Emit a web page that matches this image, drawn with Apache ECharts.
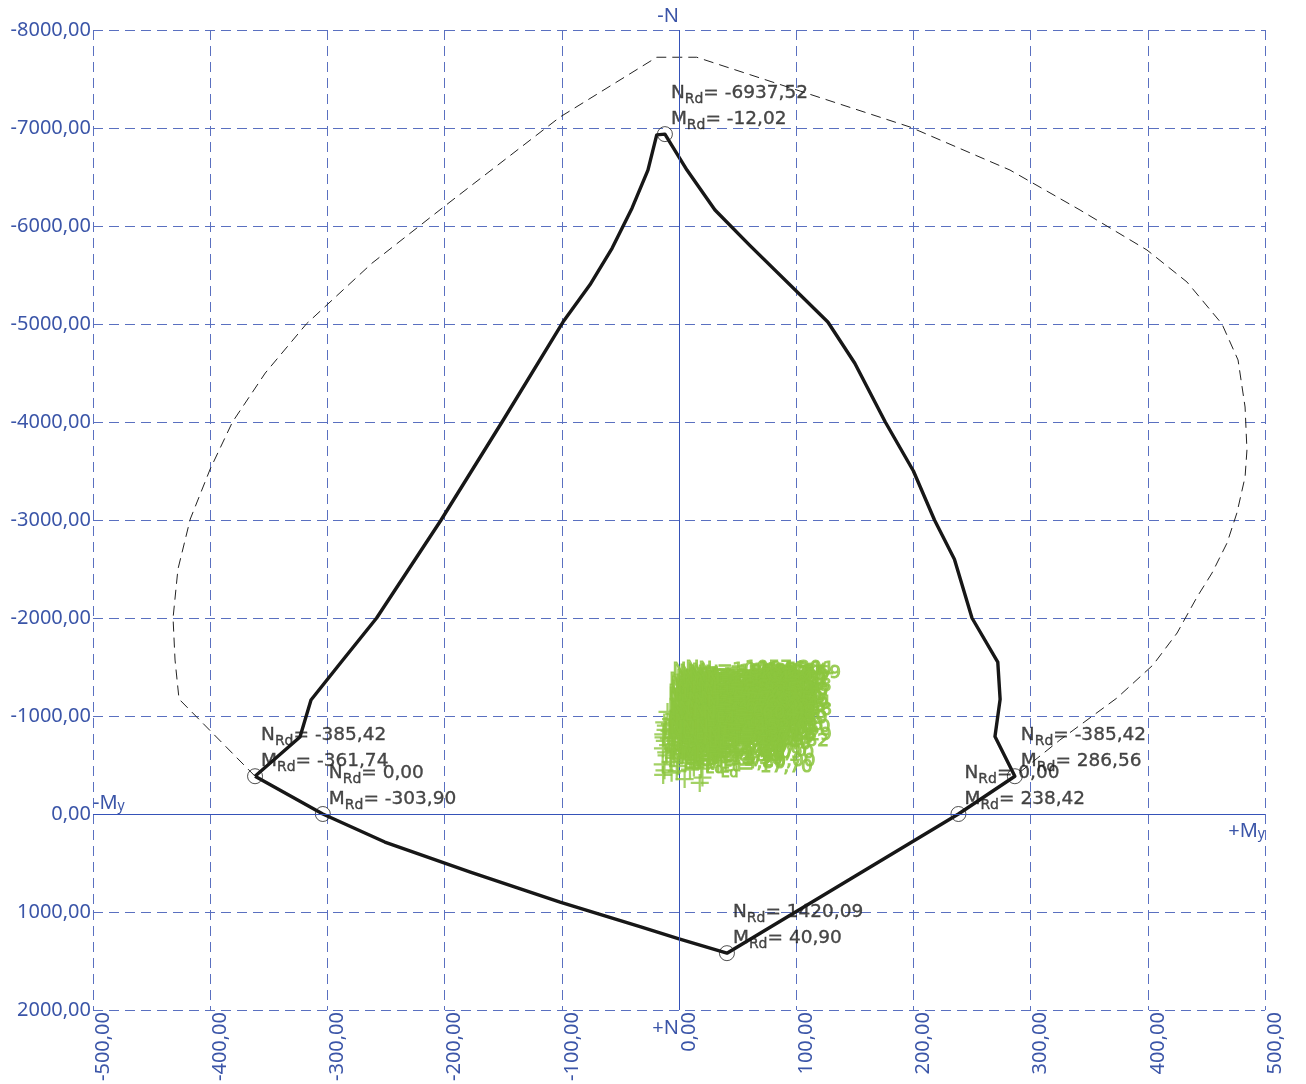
<!DOCTYPE html>
<html>
<head>
<meta charset="utf-8">
<title>N–My interaction diagram</title>
<script src="https://cdn.jsdelivr.net/npm/echarts@6/dist/echarts.min.js"></script>
<style>
  html, body { margin: 0; padding: 0; background: #ffffff; }
  #chart { width: 1306px; height: 1084px; }
</style>
</head>
<body>
<div id="chart"></div>
<script>
// Axis ranges (moment My on x, axial force N on y, compression negative, drawn upwards)
const xRange = { min: -500, max: 500, step: 100 };
const yRange = { min: -8000, max: 2000, step: 1000 };

// Design resistance envelope (solid), closed polygon: My [kNm], N [kN]
const resM = [-361.74, -323.4, -314.0, -288.0, -258.0, -203.0, -151.0, -99.0, -76.0, -57.0, -40.0, -26.5, -19.0, -12.02,
              6.8, 30.7, 60.6, 127.0, 150.0, 176.0, 200.0, 218.0, 235.0, 250.0, 272.0, 274.0, 269.6, 286.56,
              238.42, 40.90, 0.0, -33.3, -101.5, -178.0, -251.0, -303.90, -361.74];
const resN = [-385.42, -786, -1163, -1553, -2000, -3000, -4000, -5020, -5400, -5775, -6184, -6570, -6930, -6937.52,
              -6571, -6163, -5800, -5020, -4600, -4000, -3500, -3000, -2600, -2000, -1550, -1170, -790, -385.42,
              0.0, 1420.09, 1275, 1150, 900, 592, 286, 0.0, -385.42];

// Outer envelope (dashed), open curve between the two side points
const outM = [-361.74, -426.6, -430.0, -431.7, -427.5, -417.0, -400.0, -381.0, -353.0, -318.0, -262.0, -195.4, -101.5, -19.0,
              15.1, 197.1, 282.4, 342.2, 399.3, 433.4, 463.3, 477.0, 483.0, 484.6, 483.0, 476.0, 467.6, 454.8,
              442.0, 425.0, 404.4, 373.7, 325.0, 286.56];
const outN = [-385.42, -1173, -1571, -2000, -2500, -3010, -3520, -4000, -4500, -5000, -5620, -6245, -7112, -7722,
              -7722, -7010, -6571, -6163, -5755, -5429, -5000, -4633, -4153, -3714, -3439, -3071, -2765, -2459,
              -2214, -1847, -1520, -1184, -755, -385.42];

// Characteristic resistance points with labels
const rdM = [-12.02, -361.74, -303.90, 286.56, 238.42, 40.90];
const rdN = [-6937.52, -385.42, 0.00, -385.42, 0.00, 1420.09];

// Design loads (MEd, NEd)
const edM = [-11.2, -6.8, -1.5, 4.3, 9.6, 15.2, 19.8,
             -13.4, -8.1, -2.9, 2.6, 7.9, 13.3, 18.6,
             -12.1, -5.6, 0.7, 6.2, 11.8, 17.1,
             -13.7, -9.3, -3.8, 1.9, 8.8, 14.5, 20.1,
             -10.6, -4.4, 3.3, 10.2, 16.4,
             -13.9, -7.2, -0.9, 5.5, 12.7, 18.9,
             -13.5, -6.3, 4.8, 17.7,
             -9.8, -4.1, 1.2, 6.7, 12.3, 17.9,
             -12.6, -7.7, -2.2, 3.8, 9.1, 14.8, 19.3,
             -11.5, -5.9, 0.3, 5.9, 11.4, 16.9,
             -13.2, -8.6, -3.1, 2.9, 8.2, 13.8, 19.1,
             -10.9, -4.9, 1.4, 7.3, 15.7,
             -12.4, -1.9, 9.4, 20.0];
const edN = [-900.96, -968.40, -942.15, -1003.27, -951.62, -986.05, -874.48,
             -812.33, -845.70, -871.19, -903.56, -826.84, -888.12, -801.47,
             -745.28, -776.91, -731.64, -792.05, -758.39, -719.86,
             -668.52, -702.17, -655.83, -689.40, -642.71, -676.25, -633.08,
             -598.64, -573.19, -611.82, -586.37, -552.90,
             -506.41, -531.76, -488.23, -519.05, -474.68, -462.30,
             -398.12, -421.57, -356.44, -316.82,
             -1041.55, -1018.72, -1057.30, -1029.84, -1046.11, -1012.69,
             -934.27, -917.63, -958.48, -979.12, -922.85, -936.40, -948.77,
             -857.26, -834.09, -862.71, -848.53, -869.94, -835.18,
             -781.45, -769.02, -712.37, -734.86, -726.13, -741.59, -698.44,
             -627.81, -641.26, -659.92, -622.45, -604.88,
             -445.73, -437.16, -452.61, -371.29];

const zip = (a, b) => a.map((v, i) => [v, b[i]]);
const fmt = v => v.toFixed(2).replace('.', ',');

const FONT = '"Noto Sans", "Open Sans", sans-serif';
const LABEL_FONT = '"DejaVu Sans", Verdana, sans-serif';
const AXIS_BLUE = '#3b55a8';
const GRID_BLUE = '#5a70c0';
const GREEN = '#8cc63f';

function pointLabel(sub, color, border) {
  const base = { fontFamily: LABEL_FONT, color: color, lineHeight: 26 };
  if (border) { base.textBorderColor = color; base.textBorderWidth = border; }
  return {
    show: true,
    position: [14, -46],
    align: 'left',
    verticalAlign: 'top',
    formatter: p => `{n|N}{s|${sub}}{n|= ${fmt(p.value[1])}}\n{n|M}{s|${sub}}{n|= ${fmt(p.value[0])}}`,
    rich: {
      n: Object.assign({ fontSize: 18.5 }, base),
      s: Object.assign({ fontSize: 14, verticalAlign: 'bottom' }, base)
    }
  };
}

const chart = echarts.init(document.getElementById('chart'), null, { renderer: 'canvas' });

const option = {
  backgroundColor: '#ffffff',
  animation: false,
  grid: { left: 93, right: 41, top: 30, bottom: 74, containLabel: false },
  xAxis: {
    type: 'value',
    min: xRange.min, max: xRange.max, interval: xRange.step,
    axisLine: { show: false },
    axisTick: { show: false },
    splitLine: { show: true, showMinLine: true, showMaxLine: true, lineStyle: { color: GRID_BLUE, width: 1, type: [10, 6] } },
    axisLabel: {
      rotate: 90, margin: 2, verticalAlign: 'top',
      color: AXIS_BLUE, fontFamily: FONT, fontSize: 20,
      formatter: v => fmt(v)
    }
  },
  yAxis: {
    type: 'value', inverse: true,
    min: yRange.min, max: yRange.max, interval: yRange.step,
    axisLine: { show: false },
    axisTick: { show: false },
    splitLine: { show: true, showMinLine: true, showMaxLine: true, lineStyle: { color: GRID_BLUE, width: 1, type: [10, 6] } },
    axisLabel: {
      margin: 2, color: AXIS_BLUE, fontFamily: FONT, fontSize: 20,
      formatter: v => fmt(v)
    }
  },
  series: [
    {
      name: 'outer',
      type: 'line',
      data: zip(outM, outN),
      symbol: 'none',
      z: 2,
      lineStyle: { color: '#222222', width: 1, type: [10, 6] },
      markLine: {
        silent: true,
        symbol: 'none',
        label: { show: false },
        lineStyle: { color: '#3552b8', width: 1, type: 'solid' },
        data: [{ xAxis: 0 }, { yAxis: 0 }]
      }
    },
    {
      name: 'resistance',
      type: 'line',
      data: zip(resM, resN),
      symbol: 'none',
      z: 3,
      lineStyle: { color: '#171717', width: 3.4, join: 'round' }
    },
    {
      name: 'Rd points',
      type: 'scatter',
      data: zip(rdM, rdN),
      symbol: 'circle',
      symbolSize: 15,
      z: 4,
      itemStyle: { color: 'rgba(255,255,255,0)', borderColor: '#222222', borderWidth: 1 },
      label: pointLabel('Rd', '#1a1a1a', 0.35)
    },
    {
      name: 'Ed loads',
      type: 'scatter',
      data: zip(edM, edN),
      symbol: 'path://M7,0 L9,0 L9,7 L16,7 L16,9 L9,9 L9,16 L7,16 L7,9 L0,9 L0,7 L7,7 Z',
      symbolSize: 18,
      z: 5,
      itemStyle: { color: GREEN },
      label: pointLabel('Ed', GREEN, 1)
    }
  ]
};

chart.setOption(option);

// Axis direction names placed at the zero lines
const origin = chart.convertToPixel({ gridIndex: 0 }, [0, 0]);
const xRight = chart.convertToPixel({ gridIndex: 0 }, [xRange.max, 0])[0];
const xLeft = chart.convertToPixel({ gridIndex: 0 }, [xRange.min, 0])[0];
const yTop = chart.convertToPixel({ gridIndex: 0 }, [0, yRange.min])[1];
const yBottom = chart.convertToPixel({ gridIndex: 0 }, [0, yRange.max])[1];
const nameRich = {
  a: { fontFamily: FONT, fontSize: 20, fill: AXIS_BLUE },
  b: { fontFamily: FONT, fontSize: 14, fill: AXIS_BLUE, verticalAlign: 'bottom', padding: [6, 0, 0, 0] }
};
chart.setOption({
  graphic: [
    { type: 'text', x: origin[0], y: yTop - 14, style: { text: '-N', align: 'right', verticalAlign: 'middle', fontFamily: FONT, fontSize: 20, fill: AXIS_BLUE } },
    { type: 'text', x: origin[0], y: yBottom + 18, style: { text: '+N', align: 'right', verticalAlign: 'middle', fontFamily: FONT, fontSize: 20, fill: AXIS_BLUE } },
    { type: 'text', x: xLeft, y: origin[1] - 1, style: { text: '{a|-M}{b|y}', rich: nameRich, align: 'left', verticalAlign: 'bottom', fill: AXIS_BLUE } },
    { type: 'text', x: xRight, y: origin[1] + 7, style: { text: '{a|+M}{b|y}', rich: nameRich, align: 'right', verticalAlign: 'top', fill: AXIS_BLUE } }
  ]
});
</script>
</body>
</html>
